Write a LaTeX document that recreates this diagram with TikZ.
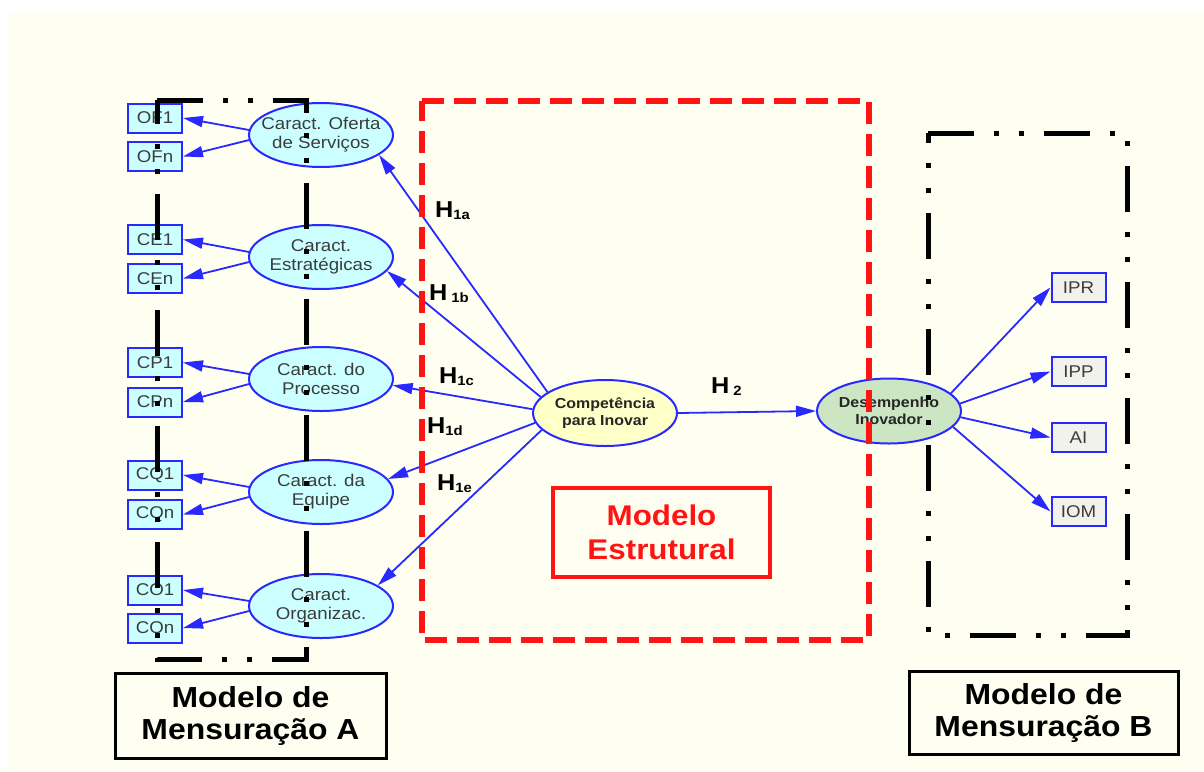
\documentclass[tikz,border=0pt]{standalone}
\usepackage{fontspec}
\setmainfont[FakeStretch=1.1]{Liberation Sans}
\usetikzlibrary{arrows.meta,shapes.geometric}
\definecolor{cream}{RGB}{255,255,241}
\definecolor{latcyan}{RGB}{204,255,255}
\definecolor{latyellow}{RGB}{255,255,200}
\definecolor{latgreen}{RGB}{204,230,196}
\definecolor{indgray}{RGB}{242,242,236}
\definecolor{pathblue}{RGB}{40,40,255}
\definecolor{txtgray}{RGB}{60,60,60}
\definecolor{modred}{RGB}{255,20,20}
\newcommand{\hsub}[1]{\raisebox{-2pt}{\fontsize{13.5}{13.5}\selectfont #1}}

\begin{document}
\begin{tikzpicture}[
    x=1pt, y=-1pt,
    lat/.style={ellipse, draw=pathblue, line width=2pt, fill=latcyan,
                minimum width=144pt, minimum height=64pt, inner sep=0pt},
    lattxt/.style={align=center, inner sep=0pt, text=txtgray,
                font=\fontsize{17}{19}\selectfont},
    coretxt/.style={lattxt, text=black!85, font=\bfseries\fontsize{14.5}{17}\selectfont},
    ind/.style={draw=pathblue, line width=2pt, fill=latcyan, minimum width=54pt,
                minimum height=29pt, inner sep=0pt, text=txtgray,
                font=\fontsize{17}{17}\selectfont},
    arr/.style={-{Triangle[length=20pt,width=11pt]}, line width=1.8pt, draw=pathblue},
    hyp/.style={anchor=base west, inner sep=0pt, font=\bfseries\fontsize{23}{23}\selectfont},
    mtag/.style={draw, line width=3pt, align=center, inner sep=0pt,
                font=\bfseries\fontsize{29}{32}\selectfont},
    mframe/.style={line width=5pt,
                dash pattern=on 46pt off 20pt on 5pt off 20pt on 5pt off 20pt}
]
\useasboundingbox (0,0) rectangle (1204,771);
\fill[white] (0,0) rectangle (1204,771);
\fill[cream] (9,13) rectangle (1204,771);

% latent variables, measurement model A
\node[lat] (ofs) at (321,135) {};
\node[lattxt] (ofs-t) at (ofs) {Caract. Oferta\\de Serviços};
\node[lat] (est) at (321,257) {};
\node[lattxt] (est-t) at (est) {Caract.\\Estratégicas};
\node[lat] (pro) at (321,379) {};
\node[lattxt] (pro-t) at (pro) {Caract. do\\Processo};
\node[lat] (equ) at (321,492) {};
\node[lattxt] (equ-t) at (equ) {Caract. da\\Equipe};
\node[lat] (org) at (321,606) {};
\node[lattxt] (org-t) at (org) {Caract.\\Organizac.};

% indicators A
\node[ind] (of1) at (155,118) {OF1};
\node[ind] (ofn) at (155,156.5) {OFn};
\node[ind] (ce1) at (155,239.5) {CE1};
\node[ind] (cen) at (155,278.5) {CEn};
\node[ind] (cp1) at (155,362.5) {CP1};
\node[ind] (cpn) at (155,402) {CPn};
\node[ind] (cq1) at (155,475) {CQ1};
\node[ind] (cqn) at (155,514.5) {CQn};
\node[ind] (co1) at (155,590) {CO1};
\node[ind] (con) at (155,628) {COn};

% structural model
\node[lat, fill=latyellow, minimum height=66pt] (comp) at (605,413) {};
\node[coretxt] (comp-t) at (comp) {Competência\\para Inovar};
\node[lat, fill=latgreen, minimum height=65pt] (desemp) at (889,411) {};
\node[coretxt] (desemp-t) at (desemp) {Desempenho\\Inovador};

% indicators B
\node[ind, fill=indgray] (ipr) at (1078.5,287.5) {IPR};
\node[ind, fill=indgray] (ipp) at (1078.5,371.5) {IPP};
\node[ind, fill=indgray] (ai) at (1078.5,437.5) {AI};
\node[ind, fill=indgray] (iom) at (1078.5,511.5) {IOM};

\draw[arr] (ofs.176) -- (of1.east);
\draw[arr] (ofs.184) -- (ofn.east);
\draw[arr] (est.176) -- (ce1.east);
\draw[arr] (est.184) -- (cen.east);
\draw[arr] (pro.176) -- (cp1.east);
\draw[arr] (pro.184) -- (cpn.east);
\draw[arr] (equ.176) -- (cq1.east);
\draw[arr] (equ.184) -- (cqn.east);
\draw[arr] (org.176) -- (co1.east);
\draw[arr] (org.184) -- (con.east);

\draw[arr] (comp.160) -- (ofs.341);
\draw[arr] (comp.166) -- (est.348);
\draw[arr] (comp.177) -- (pro.355);
\draw[arr] (comp.188) -- (equ.11);
\draw[arr] (comp.195) -- (org.20);
\draw[arr] (comp.east) -- (desemp.west);

\draw[arr] (desemp.16) -- (ipr.west);
\draw[arr] (desemp.6) -- (ipp.west);
\draw[arr] (desemp.355) -- (ai.west);
\draw[arr] (desemp.346) -- (iom.west);

\node[hyp] (h1a) at (435,217) {H\hsub{1a}};
\node[hyp] (h1b) at (429,300) {H\,\hsub{1b}};
\node[hyp] (h1c) at (439,383) {H\hsub{1c}};
\node[hyp] (h1d) at (427,433) {H\hsub{1d}};
\node[hyp] (h1e) at (437,490) {H\hsub{1e}};
\node[hyp] (h2) at (711,393) {H\,\hsub{2}};

% frames
\draw[modred, line width=6pt, dash pattern=on 22pt off 10pt]
    (422,101) -- (869,101) -- (869,640) -- (422,640) -- cycle;
\draw[mframe] (157,100) -- (306,100) -- (306,659) -- (157,659) -- cycle;
\draw[mframe] (928,133) -- (1127,133) -- (1127,635) -- (928,635) -- cycle;

\node[mtag, draw=modred, line width=4pt, text=modred, minimum width=217pt,
      minimum height=89pt, font=\bfseries\fontsize{28.5}{34}\selectfont]
      (estr) at (661.5,532.5) {Modelo\\Estrutural};
\node[mtag, minimum width=271pt, minimum height=85pt] (mma) at (250.5,715.5)
      {Modelo de\\Mensuração A};
\node[mtag, minimum width=269pt, minimum height=83pt] (mmb) at (1043.5,712.5)
      {Modelo de\\Mensuração B};

\end{tikzpicture}
\end{document}
